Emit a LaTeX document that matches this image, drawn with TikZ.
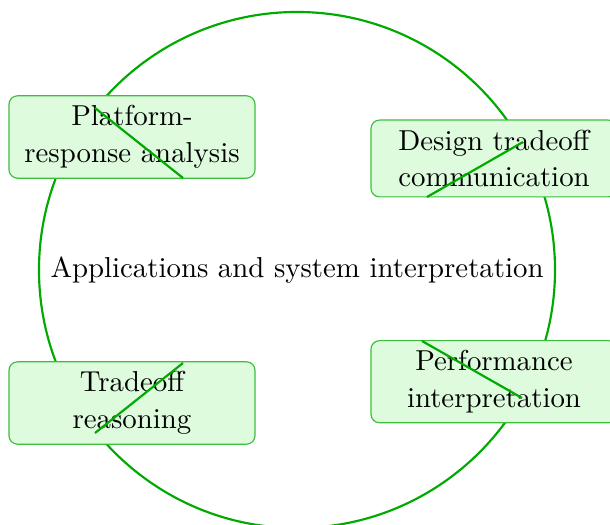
\documentclass[tikz,border=0pt]{standalone}
\definecolor{ringgreen}{RGB}{0,170,0}
\definecolor{boxedge}{RGB}{60,190,60}
\definecolor{boxfill}{RGB}{222,251,222}
\begin{document}
\begin{tikzpicture}[x=0.347pt,y=-0.347pt,
  appbox/.style={draw=boxedge, fill=boxfill, rounded corners=3pt,
    minimum width=85.4pt, align=center, inner sep=3.4pt,
    font=\normalsize},
  tie/.style={draw=ringgreen, line width=0.75pt}]
\useasboundingbox (0,0) rectangle (610,525);
% central ring and its caption
\node (hub) at (297,270) {Applications and system interpretation};
\draw[ringgreen, line width=0.75pt] (hub.center) circle[radius=89.53pt];
% application boxes
\node[appbox] (plat) at (132,137) {Platform-\\[0.7pt]response analysis};
\node[appbox] (design) at (494,158.5) {Design tradeoff\\[0.7pt]communication};
\node[appbox] (trade) at (132,403) {Tradeoff\\[0.7pt]reasoning};
\node[appbox] (perf) at (494,381.7) {Performance\\[0.7pt]interpretation};
% strokes across the boxes
\coordinate (p1) at (95,108);  \coordinate (p2) at (183,178);
\coordinate (d1) at (427,197); \coordinate (d2) at (523,142);
\coordinate (t1) at (95,433);  \coordinate (t2) at (183,363);
\coordinate (q1) at (422,341); \coordinate (q2) at (522,398);
\draw[tie] (p1) -- (p2);
\draw[tie] (d1) -- (d2);
\draw[tie] (t1) -- (t2);
\draw[tie] (q1) -- (q2);
\end{tikzpicture}
\end{document}
